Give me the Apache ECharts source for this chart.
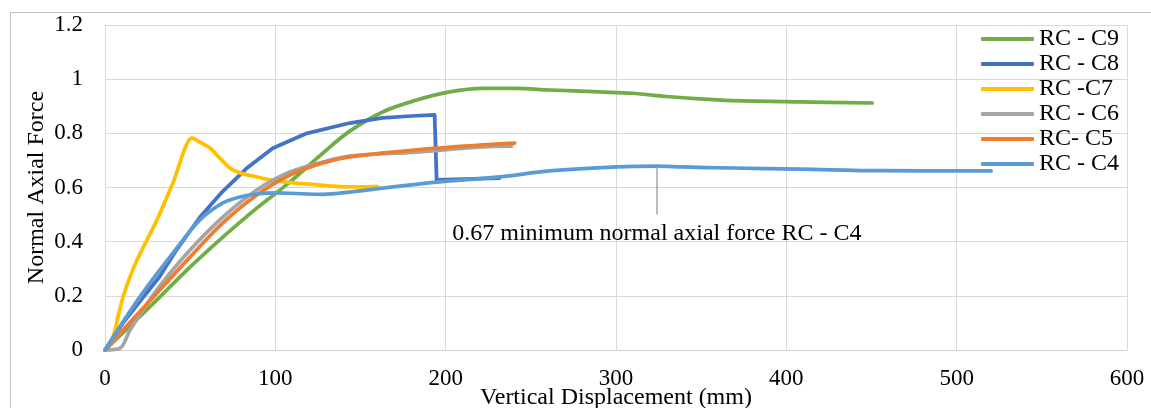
<!DOCTYPE html>
<html lang="en">
<head>
  <meta charset="UTF-8">
  <title>Normal Axial Force vs Vertical Displacement</title>
  <style>
    html, body {
      margin: 0;
      padding: 0;
      background-color: #fff;
    }
    #chart-container {
      width: 1151px;
      height: 408px;
    }
  </style>
</head>
<body>
  <div id="chart-container"></div>

  <script src="https://cdn.jsdelivr.net/npm/echarts@6/dist/echarts.min.js"></script>
  <script>
    // [displacement mm, normal axial force]
    var c9 = [[0, 0], [30.5, 0.185], [49.9, 0.306], [69.2, 0.417], [89.1, 0.524], [108.5, 0.62],
      [127.9, 0.727], [143.7, 0.808], [163, 0.879], [183, 0.923], [202.3, 0.953], [221.7, 0.966],
      [241.6, 0.966], [261, 0.96], [290.3, 0.953], [309.7, 0.948], [329.6, 0.936], [349, 0.927],
      [368.3, 0.921], [407.6, 0.916], [450.4, 0.912]];
    var c8 = [[0, 0], [10.6, 0.1], [20.5, 0.18], [32, 0.27], [42, 0.37], [55.7, 0.49], [69, 0.585],
      [83, 0.67], [98.5, 0.745], [118.5, 0.8], [143.7, 0.838], [163, 0.857], [180, 0.864],
      [193.5, 0.868], [194.7, 0.628], [231.7, 0.635]];
    var c7 = [[0, 0], [4.7, 0.048], [7.6, 0.122], [10.6, 0.196], [14.7, 0.27], [18.8, 0.332],
      [24.6, 0.406], [30.5, 0.48], [39.9, 0.617], [51, 0.783], [55.7, 0.768], [61.6, 0.746],
      [67.4, 0.709], [73.3, 0.672], [79.2, 0.654], [89.1, 0.639], [100.9, 0.624], [118.5, 0.613],
      [143.7, 0.602], [160, 0.603]];
    var c6 = [[0, 0], [8.8, 0.007], [14.7, 0.074], [30.5, 0.222], [49.9, 0.369], [69.2, 0.491],
      [89.1, 0.591], [108.5, 0.657], [127.9, 0.694], [143.7, 0.716], [183, 0.731], [221.7, 0.75],
      [238.7, 0.753]];
    var c5 = [[0, 0], [10.6, 0.074], [30.5, 0.21], [49.9, 0.343], [69.2, 0.469], [89.1, 0.572],
      [108.5, 0.646], [127.9, 0.691], [143.7, 0.713], [183, 0.739], [221.7, 0.757], [240.5, 0.764]];
    var c4 = [[0, 0], [20.5, 0.196], [39.9, 0.358], [55.7, 0.48], [69.2, 0.543], [79.2, 0.565],
      [89.1, 0.576], [100.9, 0.58], [118.5, 0.576], [127.9, 0.575], [143.7, 0.583], [163, 0.598],
      [194.7, 0.62], [231.7, 0.639], [261, 0.661], [300.3, 0.676], [324.3, 0.679], [339, 0.676],
      [368.3, 0.672], [407.6, 0.668], [456.3, 0.662], [520.2, 0.661]];

    var seriesNames = ['RC - C9', 'RC - C8', 'RC -C7', 'RC - C6', 'RC- C5', 'RC - C4'];
    var seriesData = [c9, c8, c7, c6, c5, c4];
    var colors = ['#70AD47', '#4472C4', '#FFC000', '#A5A5A5', '#ED7D31', '#5B9BD5'];
    var smoothing = [0.35, false, 0.25, 0.35, 0.35, 0.35];

    // callout for C4
    var noteText = '0.67 minimum normal axial force RC - C4';
    var noteFrom = [324, 0.676];
    var noteTo = [324, 0.5];

    var fontName = "'Liberation Serif', 'Times New Roman', serif";

    var series = [];
    for (var i = 0; i < seriesData.length; i++) {
      var s = {
        name: seriesNames[i],
        type: 'line',
        data: seriesData[i],
        smooth: smoothing[i],
        symbol: 'none',
        color: colors[i],
        lineStyle: { width: 3.75, cap: 'round', join: 'round' }
      };
      if (i === 5) {
        s.markLine = {
          silent: true,
          symbol: ['none', 'none'],
          lineStyle: { color: '#a6a6a6', width: 1.5, type: 'solid' },
          label: {
            show: true,
            position: 'end',
            distance: 7,
            formatter: noteText,
            color: '#000',
            fontFamily: fontName,
            fontSize: 24
          },
          data: [[{ coord: noteFrom }, { coord: noteTo }]]
        };
      }
      series.push(s);
    }

    var chart = echarts.init(document.getElementById('chart-container'));

    var option = {
      animation: false,
      textStyle: { fontFamily: fontName, color: '#000' },
      grid: { left: 105, right: 24, top: 25, bottom: 58, outerBoundsMode: 'none', containLabel: false },
      legend: {
        orient: 'vertical',
        left: 976,
        top: 22,
        icon: 'roundRect',
        itemWidth: 53,
        itemHeight: 4,
        itemGap: 1,
        data: seriesNames,
        textStyle: { fontFamily: fontName, fontSize: 24, color: '#000', lineHeight: 24 }
      },
      xAxis: {
        type: 'value',
        min: 0,
        max: 600,
        interval: 100,
        name: 'Vertical Displacement (mm)',
        nameLocation: 'middle',
        nameGap: 36,
        nameMoveOverlap: false,
        nameTextStyle: { fontFamily: fontName, fontSize: 24, color: '#000' },
        axisLine: { show: true, lineStyle: { color: '#d0d0d0' } },
        axisTick: { show: false },
        axisLabel: { margin: 17, fontFamily: fontName, fontSize: 23, color: '#000' },
        splitLine: { lineStyle: { color: '#d9d9d9' } }
      },
      yAxis: {
        type: 'value',
        min: 0,
        max: 1.2,
        interval: 0.2,
        name: 'Normal Axial Force',
        nameLocation: 'middle',
        nameGap: 56,
        nameMoveOverlap: false,
        nameTextStyle: { fontFamily: fontName, fontSize: 24, color: '#000' },
        axisLine: { show: true, lineStyle: { color: '#d9d9d9' } },
        axisTick: { show: false },
        axisLabel: { margin: 22, fontFamily: fontName, fontSize: 23, color: '#000' },
        splitLine: { lineStyle: { color: '#d9d9d9' } }
      },
      graphic: [{
        type: 'rect',
        silent: true,
        shape: { x: 10.5, y: 12.5, width: 1150, height: 400 },
        style: { fill: 'none', stroke: '#bfbfbf', lineWidth: 1 }
      }],
      series: series
    };

    chart.setOption(option);
  </script>
</body>
</html>
